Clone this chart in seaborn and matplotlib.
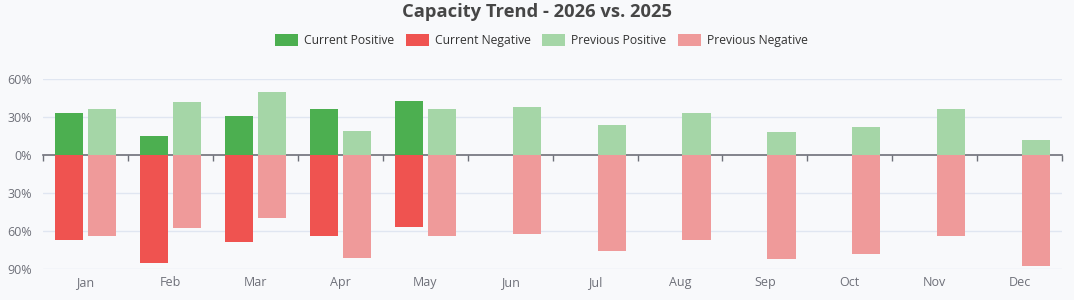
import numpy as np
import pandas as pd
import matplotlib.pyplot as plt
import seaborn as sns
from matplotlib.patches import Patch
from matplotlib.ticker import FuncFormatter, FixedLocator

## DADOS
months = ["Jan", "Feb", "Mar", "Apr", "May", "Jun", "Jul", "Aug", "Sep", "Oct", "Nov", "Dec"]
cur_pos = [33, 15, 31, 36, 43]
cur_neg = [67, 85, 69, 64, 57]
prev_pos = [36, 42, 50, 19, 36, 38, 24, 33, 18, 22, 36, 12]
prev_neg = [64, 58, 50, 81, 64, 62, 76, 67, 82, 78, 64, 88]
y_ticks = [-90, -60, -30, 0, 30, 60]

GREEN = "#4caf50"
RED = "#ef5350"
LIGHT_GREEN = "#a5d6a7"
LIGHT_RED = "#ef9a9a"
BG = "#f8f9fb"
AXIS_GRAY = "#6e7079"

rows = []
for i, m in enumerate(months):
    if i < len(cur_pos):
        rows.append((m, "Current", cur_pos[i], -cur_neg[i]))
    rows.append((m, "Previous", prev_pos[i], -prev_neg[i]))
df = pd.DataFrame(rows, columns=["month", "period", "pos", "neg"])

sns.set_theme(style="white")
plt.rcParams["font.family"] = ["Open Sans", "DejaVu Sans"]

fig = plt.figure(figsize=(10.74, 3.0), dpi=100, facecolor=BG)
ax = fig.add_axes([0.040, 0.1033, 0.949, 0.6334])
ax.set_facecolor(BG)

common = dict(x="month", hue="period", order=months, hue_order=["Current", "Previous"],
              width=0.78, gap=0.15, legend=False, ax=ax, saturation=1, errorbar=None,
              linewidth=0)
sns.barplot(data=df, y="pos", palette={"Current": GREEN, "Previous": LIGHT_GREEN}, **common)
sns.barplot(data=df, y="neg", palette={"Current": RED, "Previous": LIGHT_RED}, **common)

ax.set_ylim(-90, 60)
ax.set_xlim(-0.5, len(months) - 0.5)
ax.set_yticks(y_ticks)
ax.yaxis.set_major_formatter(FuncFormatter(lambda v, p: f"{abs(int(v))}%"))
ax.tick_params(axis="y", length=0, labelsize=9, labelcolor=AXIS_GRAY, pad=8)
for t in y_ticks:
    if t != 0:
        ax.axhline(t, color="#e0e6f1", lw=1, zorder=0)
for s in ax.spines.values():
    s.set_visible(False)

ax.set_xlabel("")
ax.set_ylabel("")
ax.tick_params(axis="x", length=0, labelsize=9, labelcolor=AXIS_GRAY, pad=5)

# eixo no zero com ticks nas fronteiras das categorias
y0, y1 = ax.get_ylim()
zero_ax = ax.secondary_xaxis((0 - y0) / (y1 - y0))
zero_ax.set_alignment("bottom")
zero_ax.spines["bottom"].set_color(AXIS_GRAY)
zero_ax.spines["bottom"].set_linewidth(1.2)
zero_ax.xaxis.set_major_locator(FixedLocator(np.arange(-0.5, len(months), 1.0)))
zero_ax.tick_params(axis="x", direction="out", length=4, width=1, color=AXIS_GRAY,
                    labelbottom=False, labeltop=False)

fig.suptitle("Capacity Trend - 2026 vs. 2025", y=0.99, fontsize=13.2,
             fontweight="bold", color="#464646")

handles = [Patch(facecolor=c, edgecolor="none", label=l) for c, l in
           [(GREEN, "Current Positive"), (RED, "Current Negative"),
            (LIGHT_GREEN, "Previous Positive"), (LIGHT_RED, "Previous Negative")]]
fig.legend(handles=handles, loc="center", bbox_to_anchor=(0.504, 0.865), ncol=4,
           frameon=False, fontsize=8.7, handlelength=1.9, handleheight=1.2,
           handletextpad=0.5, columnspacing=0.95, labelcolor="#333333")

fig.savefig("out.png", dpi=100, facecolor=BG)
